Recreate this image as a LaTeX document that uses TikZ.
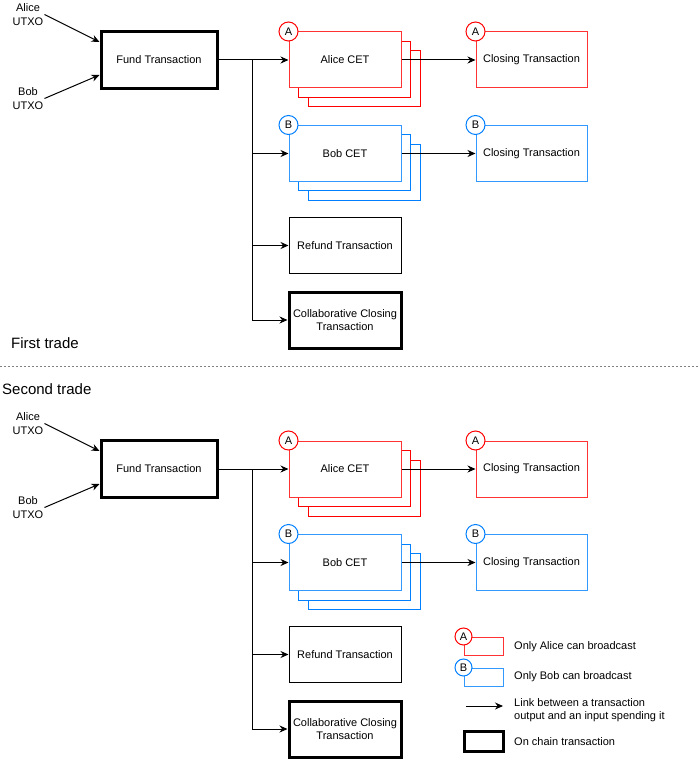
\documentclass[tikz,border=0pt]{standalone}
\usepackage{fontspec}
\setmainfont{Liberation Sans}
\usetikzlibrary{arrows.meta,calc}
\definecolor{aliceback}{HTML}{FF0000}
\definecolor{alicefront}{HTML}{FF3333}
\definecolor{bobback}{HTML}{007FFF}
\definecolor{bobfront}{HTML}{3399FF}

\begin{document}
\begin{tikzpicture}[x=1pt,y=-1pt,
  every node/.style={font=\fontsize{11}{13.5}\selectfont},
  tx/.style={draw, fill=white, line width=1pt, minimum width=112pt, minimum height=56pt, inner sep=1pt, align=center},
  onchain/.style={tx, line width=3pt},
  badge/.style={circle, draw, fill=white, line width=1pt, minimum size=19pt, inner sep=0pt},
  link/.style={draw=black, line width=1pt, -{Stealth[length=8pt,width=7pt]}},
  heading/.style={font=\fontsize{15}{18}\selectfont, anchor=west, inner sep=0pt},
  utxo/.style={align=center, inner sep=1pt},
]
\useasboundingbox (0,0) rectangle (700,759);

% the two trades share the same layout
\foreach \p/\dy in {t1/0, t2/409}{
\begin{scope}[shift={(0,\dy)}]
  \node[utxo] (\p-alice) at (28,14.5) {Alice\\UTXO};
  \node[utxo] (\p-bob) at (28,98.5) {Bob\\UTXO};
  \node[onchain, minimum width=116pt, minimum height=57pt] (\p-fund) at (159,60) {Fund Transaction};

  % Alice CETs, stacked
  \node[tx, draw=aliceback] (\p-acet3) at (364,79) {};
  \node[tx, draw=aliceback] (\p-acet2) at (354.5,69.5) {};
  \node[tx, draw=alicefront] (\p-acet) at (345,60) {Alice CET};
  \node[badge, draw=aliceback] at (\p-acet.north west) {A};

  % Bob CETs, stacked
  \node[tx, draw=bobback] (\p-bcet3) at (364,172.5) {};
  \node[tx, draw=bobback] (\p-bcet2) at (354.5,163) {};
  \node[tx, draw=bobfront] (\p-bcet) at (345,153.5) {Bob CET};
  \node[badge, draw=bobback] at (\p-bcet.north west) {B};

  % closing transactions
  \node[tx, draw=alicefront, minimum width=111pt] (\p-aclose) at (531.5,60) {Closing Transaction};
  \node[badge, draw=aliceback] at (\p-aclose.north west) {A};
  \node[tx, draw=bobfront, minimum width=111pt] (\p-bclose) at (531.5,153.5) {Closing Transaction};
  \node[badge, draw=bobback] at (\p-bclose.north west) {B};

  \node[tx] (\p-refund) at (345,245.5) {Refund Transaction};
  \node[onchain] (\p-collab) at (345,320) {Collaborative Closing\\Transaction};

  % funding inputs
  \draw[link] (\p-alice.east) -- ($(\p-fund.north west)!0.2!(\p-fund.south west)$);
  \draw[link] (\p-bob.east) -- ($(\p-fund.north west)!0.75!(\p-fund.south west)$);

  % fund output spent by every branch
  \coordinate (\p-j) at (252,60);
  \draw[link] (\p-fund.east) -- (\p-acet.west);
  \draw[link] (\p-j) |- (\p-bcet.west);
  \draw[link] (\p-j) |- (\p-refund.west);
  \draw[link] (\p-j) |- (\p-collab.west);

  \draw[link] (\p-acet.east) -- (\p-aclose.west);
  \draw[link] (\p-bcet.east) -- (\p-bclose.west);
\end{scope}
}

% trade separator
\node[heading] (first) at (11,343) {First trade};
\node[heading] (second) at (2,389) {Second trade};
\coordinate (sepL) at (0,366);
\coordinate (sepR) at (700,366);
\draw[gray, line width=1pt, dash pattern=on 2pt off 2pt] (sepL) -- (sepR);

% legend
\node[draw=alicefront, line width=1pt, minimum width=39pt, minimum height=18pt, inner sep=0pt] (lgA) at (483.5,646) {};
\node[badge, draw=aliceback, minimum size=17pt] at (lgA.north west) {A};
\node[anchor=west, inner sep=0pt] (lgAt) at (514,647) {Only Alice can broadcast};

\node[draw=bobfront, line width=1pt, minimum width=39pt, minimum height=18pt, inner sep=0pt] (lgB) at (483.5,677) {};
\node[badge, draw=bobback, minimum size=17pt] at (lgB.north west) {B};
\node[anchor=west, inner sep=0pt] (lgBt) at (514,677) {Only Bob can broadcast};

\coordinate (lgL1) at (466,706);
\coordinate (lgL2) at (503,706);
\draw[link] (lgL1) -- (lgL2);
\node[anchor=west, inner sep=0pt, align=left] (lgLt) at (514,710) {Link between a transaction\\output and an input spending it};

\node[draw, line width=3pt, minimum width=39pt, minimum height=20pt, inner sep=0pt] (lgC) at (483.5,741) {};
\node[anchor=west, inner sep=0pt] (lgCt) at (514,742) {On chain transaction};
\end{tikzpicture}
\end{document}
